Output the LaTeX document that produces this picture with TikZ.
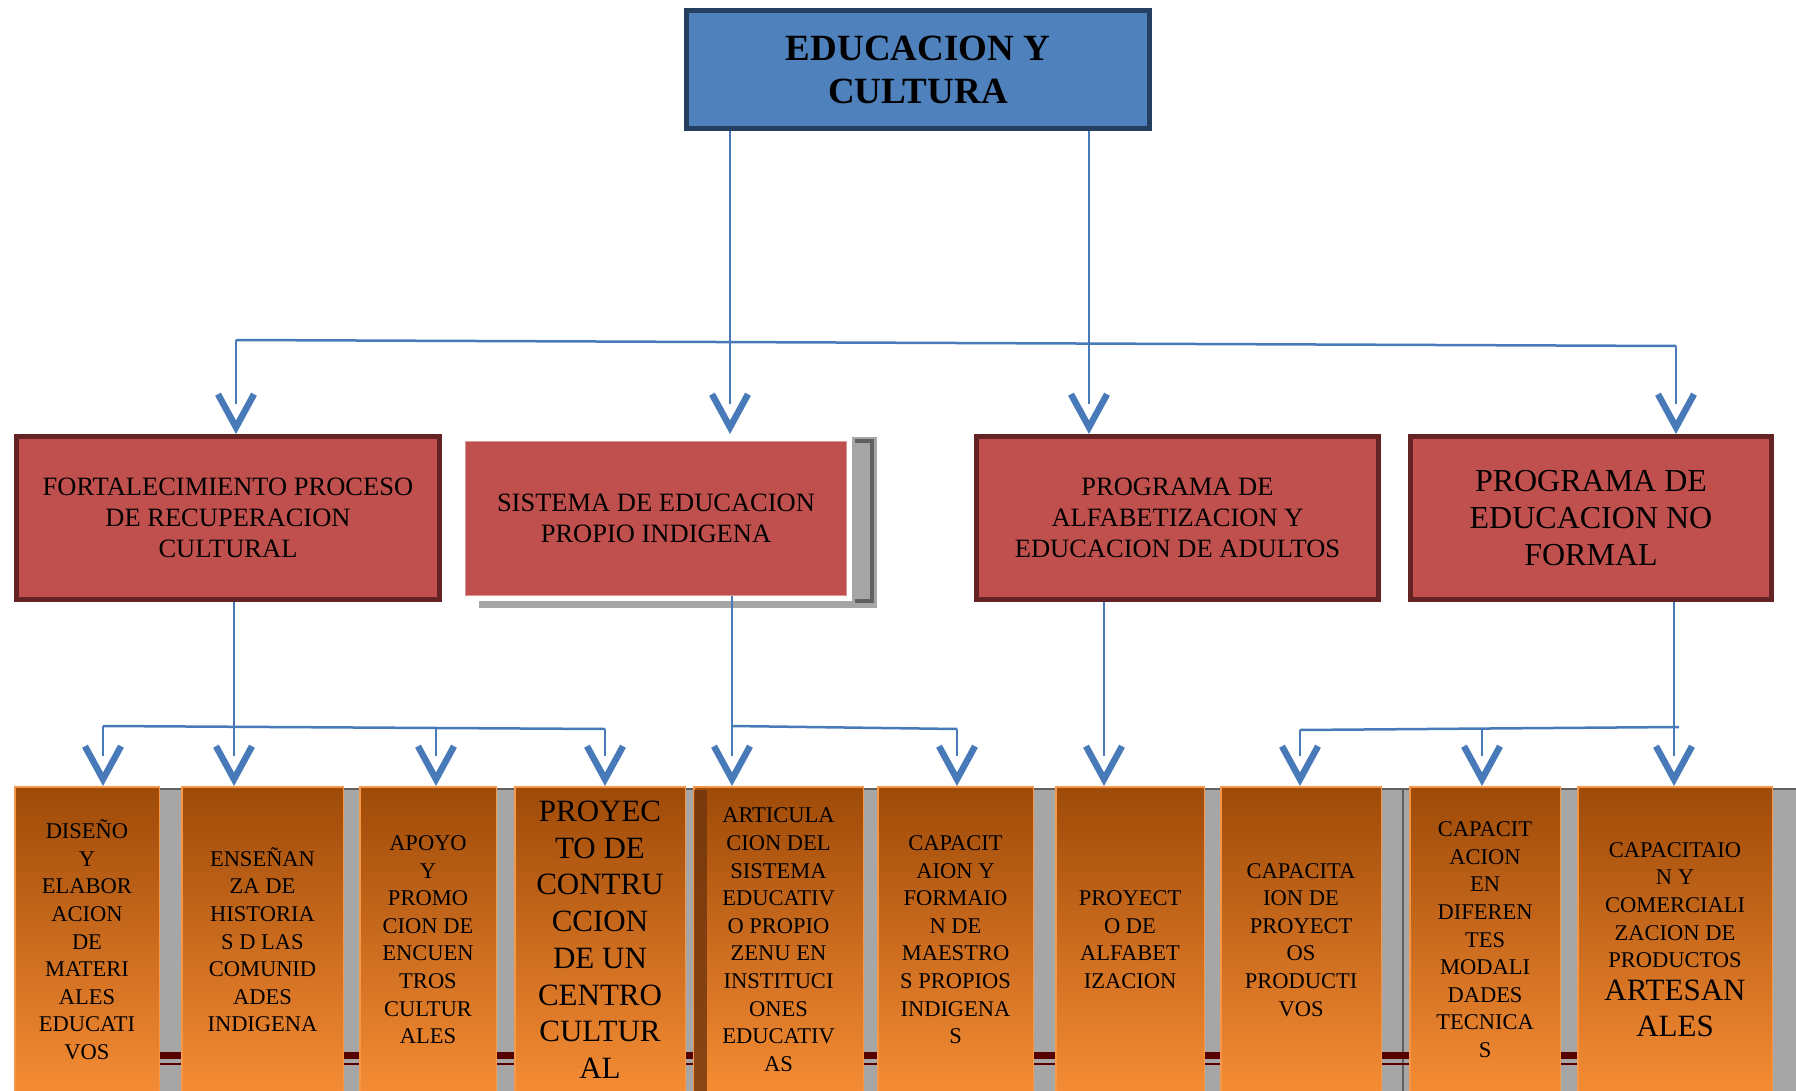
\documentclass[tikz,border=0pt]{standalone}
\usepackage{fontspec}
\setmainfont{Liberation Serif}
\usepackage{xcolor}
\usepackage{tikz}
\usetikzlibrary{positioning}
\usetikzlibrary{arrows.meta}
\usetikzlibrary{calc}
\usetikzlibrary{decorations.markings}

\definecolor{azulcaja}{RGB}{79,129,189}
\definecolor{azulborde}{RGB}{36,63,96}
\definecolor{azullinea}{RGB}{72,122,186}
\definecolor{rojocaja}{RGB}{192,80,77}
\definecolor{rojoborde}{RGB}{99,36,35}
\definecolor{cafe}{RGB}{158,74,8}
\definecolor{cafeoscuro}{RGB}{112,52,12}
\definecolor{naranja}{RGB}{245,140,52}
\definecolor{naranjaborde}{RGB}{247,150,70}
\definecolor{grisfondo}{RGB}{166,166,166}
\definecolor{grisoscuro}{RGB}{96,96,96}
\definecolor{vino}{RGB}{88,0,0}

\begin{document}
\begin{tikzpicture}[x=1pt,y=-1pt,
    caja/.style={rectangle,fill=rojocaja,draw=rojoborde,line width=5pt,align=center,font=\fontsize{26.5}{31}\selectfont},
    hoja/.style={rectangle,anchor=north,top color=cafe,bottom color=naranja,draw=naranjaborde,line width=1.5pt,minimum height=306pt,align=center,inner sep=0pt,font=\fontsize{22.5}{27.6}\selectfont},
    linea/.style={draw=azullinea,line width=2.5pt},
    flecha/.style={linea,shorten >=30pt,postaction={decorate,decoration={markings,mark=at position 1 with {\arrow[azullinea,line width=2.5pt]{Straight Barb[length=33pt,width=36pt,line width=6.5pt]}}}}}]

\useasboundingbox (0,0) rectangle (1796,1091);

\fill[grisfondo] (150,789) rectangle (1796,1095);
\draw[grisoscuro,line width=1.5pt] (150,789) -- (1796,789);
\draw[grisoscuro,line width=1.5pt] (1403,789) -- (1403,1095);
\fill[vino] (150,1052) rectangle (1580,1059);
\draw[vino,line width=1.2pt] (150,1064) -- (1580,1064);

\node[draw=azulborde,fill=azulcaja,line width=5pt,minimum width=463pt,minimum height=118pt,align=center,font=\bfseries\fontsize{37}{43}\selectfont] (edu) at (918,69.5) {EDUCACION Y\\CULTURA};

\fill[grisfondo] (852,437) rectangle (877,607);
\fill[grisfondo] (479,601) rectangle (877,608);
\draw[grisoscuro,line width=4pt] (855,441) -- (872,441) -- (872,601) -- (855,601);

\node[caja,minimum width=423pt,minimum height=163pt] (fort) at (228,518) {FORTALECIMIENTO PROCESO\\DE RECUPERACION\\CULTURAL};
\node[caja,draw=rojocaja!60!white,line width=1pt,minimum width=381pt,minimum height=154pt] (sist) at (656,518.5) {SISTEMA DE EDUCACION\\PROPIO INDIGENA};
\node[caja,minimum width=402pt,minimum height=163pt] (alfa) at (1177.5,518) {PROGRAMA DE\\ALFABETIZACION Y\\EDUCACION DE ADULTOS};
\node[caja,minimum width=361pt,minimum height=163pt,font=\fontsize{32}{37}\selectfont] (nofor) at (1591,518) {PROGRAMA DE\\EDUCACION NO\\FORMAL};

\node[hoja,minimum width=144.5pt] (h1) at (87,786) {DISEÑO\\Y\\ELABOR\\ACION\\DE\\MATERI\\ALES\\EDUCATI\\VOS};
\node[hoja,minimum width=161.5pt] (h2) at (262.5,786) {ENSEÑAN\\ZA DE\\HISTORIA\\S D LAS\\COMUNID\\ADES\\INDIGENA};
\node[hoja,minimum width=136.5pt] (h3) at (428,786) {APOYO\\Y\\PROMO\\CION DE\\ENCUEN\\TROS\\CULTUR\\ALES};
\node[hoja,minimum width=170.5pt,font=\fontsize{31}{36.7}\selectfont] (h4) at (600,786) {PROYEC\\TO DE\\CONTRU\\CCION\\DE UN\\CENTRO\\CULTUR\\AL};
\node[hoja,minimum width=169.5pt] (h5) at (778.5,786) {ARTICULA\\CION DEL\\SISTEMA\\EDUCATIV\\O PROPIO\\ZENU EN\\INSTITUCI\\ONES\\EDUCATIV\\AS};
\fill[cafeoscuro,opacity=.8] (694,790) rectangle (707,1095);
\node[hoja,minimum width=155.5pt] (h6) at (955.5,786) {CAPACIT\\AION Y\\FORMAIO\\N DE\\MAESTRO\\S PROPIOS\\INDIGENA\\S};
\node[hoja,minimum width=148.5pt] (h7) at (1130,786) {PROYECT\\O DE\\ALFABET\\IZACION};
\node[hoja,minimum width=160.5pt] (h8) at (1301,786) {CAPACITA\\ION DE\\PROYECT\\OS\\PRODUCTI\\VOS};
\node[hoja,minimum width=150.5pt] (h9) at (1485,786) {CAPACIT\\ACION\\EN\\DIFEREN\\TES\\MODALI\\DADES\\TECNICA\\S};
\node[hoja,minimum width=194.5pt] (h10) at (1675,786) {CAPACITAIO\\N Y\\COMERCIALI\\ZACION DE\\PRODUCTOS\\[5pt]{\fontsize{31}{36}\selectfont ARTESAN}\\[9pt]{\fontsize{31}{36}\selectfont ALES}};

\coordinate (e1) at (730,131);
\coordinate (e2) at (1089,131);
\coordinate (r1) at (236,340);
\coordinate (r4) at (1676,346);
\draw[linea] (r1) -- (r4);
\draw[flecha] (r1) -- (r1 |- fort.north);
\draw[flecha] (e1) -- (e1 |- fort.north);
\draw[flecha] (e2) -- (e2 |- alfa.north);
\draw[flecha] (r4) -- (r4 |- nofor.north);

\coordinate (f1) at (234,602);
\coordinate (a1) at (103,726);
\coordinate (a3) at (436,727.5);
\coordinate (a4) at (605,729);
\draw[linea] (a1) -- (a4);
\draw[flecha] (a1) -- (a1 |- h1.north);
\draw[flecha] (f1) -- (f1 |- h2.north);
\draw[flecha] (a3) -- (a3 |- h3.north);
\draw[flecha] (a4) -- (a4 |- h4.north);

\coordinate (s1) at (732,596);
\coordinate (b5) at (732,726);
\coordinate (b6) at (957,729);
\draw[linea] (b5) -- (b6);
\draw[flecha] (s1) -- (s1 |- h5.north);
\draw[flecha] (b6) -- (b6 |- h6.north);

\coordinate (p1) at (1104,602);
\draw[flecha] (p1) -- (p1 |- h7.north);

\coordinate (n1) at (1674,602);
\coordinate (d8) at (1300,730);
\coordinate (d9) at (1482,728.5);
\coordinate (d10) at (1679,727);
\draw[linea] (d8) -- (d10);
\draw[flecha] (n1) -- (n1 |- h10.north);
\draw[flecha] (d8) -- (d8 |- h8.north);
\draw[flecha] (d9) -- (d9 |- h9.north);

\end{tikzpicture}
\end{document}
